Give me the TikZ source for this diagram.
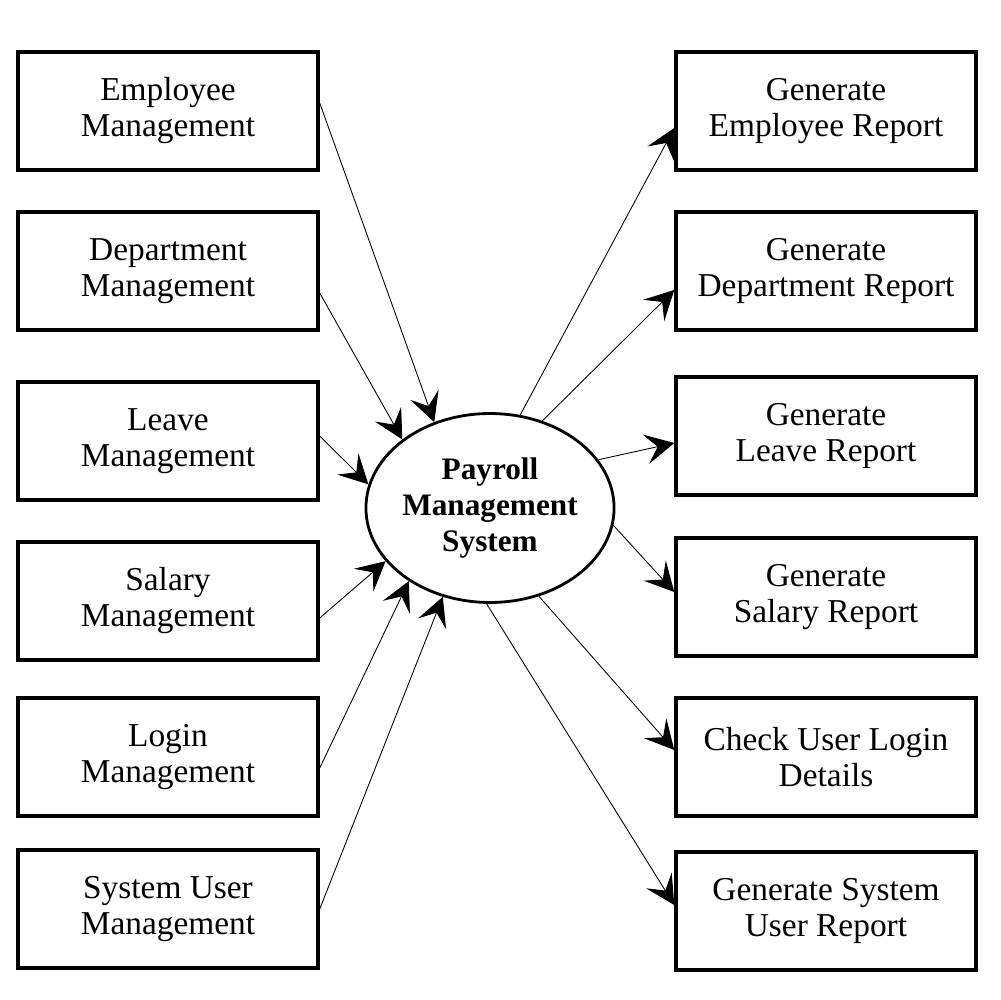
\documentclass[tikz,border=0pt]{standalone}
\usepackage{fontspec}
\setmainfont{Liberation Serif}
\usetikzlibrary{arrows.meta, shapes.geometric}

\begin{document}
\begin{tikzpicture}[x=0.02cm, y=-0.02cm, nodes = {align = center}, >={Stealth[length=0.58cm, width=0.6cm, inset=0.24cm]}]

  \tikzstyle{module}=[draw, rectangle, line width=2pt, minimum width=6cm, minimum height=2.36cm, font=\fontsize{19}{20.5}\selectfont]
  \tikzstyle{report}=[draw, rectangle, line width=2pt, minimum width=6cm, minimum height=2.36cm, font=\fontsize{19}{20.5}\selectfont]
  \tikzstyle{core}=[draw, ellipse, line width=1.6pt, minimum width=4.74cm, minimum height=3.78cm, inner sep=0pt, font=\bfseries\fontsize{17.8}{20.5}\selectfont]
  \tikzstyle{flow}=[->, line width=0.5pt]

  \useasboundingbox (0,0) rectangle (1000,1000);

  % Centre
  \node[core] (pms) at (490,508) {Payroll\\Management\\System};

  % Management modules
  \node[module] (emp) at (168,111) {Employee\\Management};
  \node[module] (dept) at (168,271) {Department\\Management};
  \node[module] (leave) at (168,441) {Leave\\Management};
  \node[module] (sal) at (168,601) {Salary\\Management};
  \node[module] (login) at (168,757) {Login\\Management};
  \node[module] (user) at (168,909) {System User\\Management};

  % Reports
  \node[report] (rep_emp) at (826,111) {Generate\\Employee Report};
  \node[report] (rep_dept) at (826,271) {Generate\\Department Report};
  \node[report] (rep_leave) at (826,436) {Generate\\Leave Report};
  \node[report] (rep_sal) at (826,597) {Generate\\Salary Report};
  \node[report] (rep_login) at (826,757) {Check User Login\\Details};
  \node[report] (rep_user) at (826,911) {Generate System\\User Report};

  % Lines into the system
  \draw[flow] ([yshift=0.16cm]emp.east) -- (pms.123);
  \draw[flow] ([yshift=-0.44cm]dept.east) -- (pms.142);
  \draw[flow] ([yshift=0.1cm]leave.east) -- (pms.169);
  \draw[flow] ([yshift=-0.34cm]sal.east) -- (pms.207);
  \draw[flow] ([yshift=-0.22cm]login.east) -- (pms.222);
  \draw[flow] (user.east) -- (pms.242);

  % Lines out to the reports
  \draw[flow] (pms.72) -- ([yshift=-0.34cm]rep_emp.west);
  \draw[flow] (pms.59) -- ([yshift=-0.38cm]rep_dept.west);
  \draw[flow] (pms.24) -- ([yshift=-0.14cm]rep_leave.west);
  \draw[flow] (pms.-8) -- ([yshift=0.1cm]rep_sal.west);
  \draw[flow] (pms.-61) -- ([yshift=0.14cm]rep_login.west);
  \draw[flow] (pms.268) -- ([yshift=0.12cm]rep_user.west);

\end{tikzpicture}
\end{document}
